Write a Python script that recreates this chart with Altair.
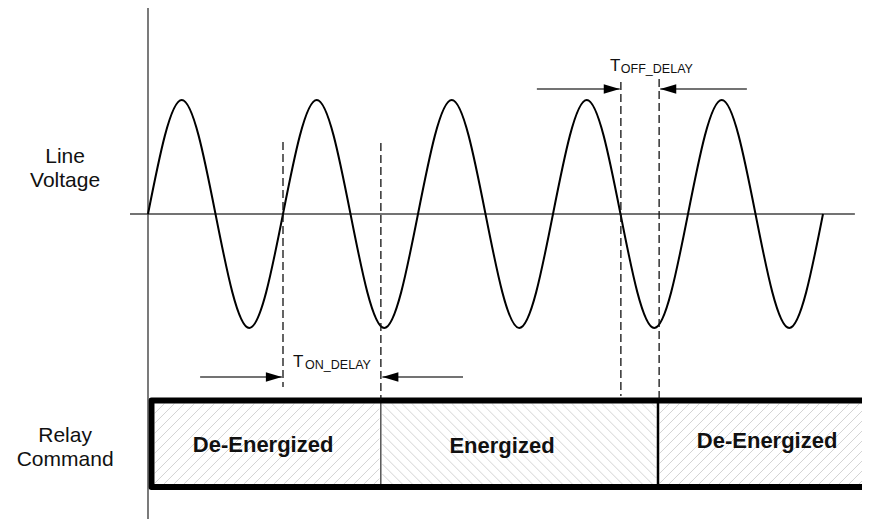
import altair as alt
import pandas as pd

# ---------------- data (x = line-cycle angle in degrees, y = normalized voltage) -------------
wave_deg = [0, 90, 180, 270, 360, 450, 540, 630, 720, 810, 900, 990, 1080, 1170,
            1260, 1350, 1440, 1530, 1620, 1710, 1800]
wave_v = [0, 1, 0, -1, 0, 1, 0, -1, 0, 1, 0, -1, 0, 1, 0, -1, 0, 1, 0, -1, 0]

# vertical axis and zero line
axis_x = 0
axis_top, axis_bot = 1.833, -2.746
zero_start, zero_end = -48, 1885

# dashed marker lines: x, top, bottom
dash_x = [360, 621, 1261, 1363]
dash_top = [0.632, 0.623, 1.158, 1.184]
dash_bot = [-1.518, -1.632, -1.596, -1.632]

# delay arrows: tail x, tip x, y
arrow_tail = [139, 840, 1037, 1597]
arrow_tip = [357, 625, 1258, 1366]
arrow_y = [-1.430, -1.430, 1.097, 1.097]
arrow_dir = ["right", "left", "right", "left"]

# relay command box
sec_start = [9.3, 621, 1360]
sec_end = [621, 1360, 1950]
sec_label = ["De-Energized", "Energized", "De-Energized"]
sec_label_x = [307, 944, 1651]
sec_label_y = [-2.088, -2.096, -2.055]
sec_hatch = ["/", "\\", "/"]
box_top, box_bot = -1.636, -2.395
divider_width = [1, 2.5]

# side labels
side_text = ["Line", "Voltage", "Relay", "Command"]
side_x = [-221, -221, -221, -221]
side_y = [0.447, 0.237, -2.000, -2.211]

# delay labels
delay_main_x = [387, 1232]
delay_main_y = [-1.342, 1.254]
delay_sub = ["ON_DELAY", "OFF_DELAY"]
delay_sub_x = [419, 1261]
delay_sub_y = [-1.360, 1.237]

# ---------------- scales ----------------
W, H = 854, 511
X_DOM = [-373.33, 1904.0]
Y_DOM = [-2.67544, 1.80702]
xs = alt.Scale(domain=X_DOM, nice=False, zero=False)
ys = alt.Scale(domain=Y_DOM, nice=False, zero=False)


def X(f):
    return alt.X(f"{f}:Q", scale=xs, axis=None)


def Y(f):
    return alt.Y(f"{f}:Q", scale=ys, axis=None)


def x_px(d):
    return (d - X_DOM[0]) / (X_DOM[1] - X_DOM[0]) * W


def y_px(v):
    return (Y_DOM[1] - v) / (Y_DOM[1] - Y_DOM[0]) * H


def px_x(p):
    return X_DOM[0] + p / W * (X_DOM[1] - X_DOM[0])


def px_y(p):
    return Y_DOM[1] - p / H * (Y_DOM[1] - Y_DOM[0])


# hatch segments derived from the box sections
hatch_rows = []
step = 10
for i, (a, b, d) in enumerate(zip(sec_start, sec_end, sec_hatch)):
    xa = x_px(a) + (3 if i == 0 else 1.5)
    xb = min(x_px(b) - 1.5, W)
    ya = y_px(box_top) + 3
    yb = y_px(box_bot) - 3
    if d == "/":
        c = xa + ya
        while c < xb + yb:
            lo = max(ya, c - xb)
            hi = min(yb, c - xa)
            if lo < hi:
                hatch_rows.append(dict(x=px_x(c - lo), y=px_y(lo), x2=px_x(c - hi), y2=px_y(hi)))
            c += step
    else:
        c = xa - yb
        while c < xb - ya:
            lo = max(ya, xa - c)
            hi = min(yb, xb - c)
            if lo < hi:
                hatch_rows.append(dict(x=px_x(c + lo), y=px_y(lo), x2=px_x(c + hi), y2=px_y(hi)))
            c += step
hatch_df = pd.DataFrame(hatch_rows)

hatch = alt.Chart(hatch_df).mark_rule(color="#d4d4d4", strokeWidth=1).encode(
    x=X("x"), y=Y("y"), x2="x2", y2="y2")

box_df = pd.DataFrame(dict(x=[sec_start[0]], x2=[sec_end[-1]], y=[box_top], y2=[box_bot]))
box = alt.Chart(box_df).mark_rect(fill="white", fillOpacity=0, stroke="black",
                                  strokeWidth=6, strokeJoin="round").encode(
    x=X("x"), x2="x2", y=Y("y"), y2="y2")

div_df = pd.DataFrame(dict(x=sec_start[1:], y=[box_top] * 2, y2=[box_bot] * 2, w=divider_width))
dividers = alt.Chart(div_df).mark_rule(color="black").encode(
    x=X("x"), y=Y("y"), y2="y2",
    strokeWidth=alt.StrokeWidth("w:Q", scale=None, legend=None))

zero_df = pd.DataFrame(dict(x=[zero_start], x2=[zero_end], y=[0]))
zero_line = alt.Chart(zero_df).mark_rule(color="#444", strokeWidth=1.3).encode(
    x=X("x"), x2="x2", y=Y("y"))

axis_df = pd.DataFrame(dict(x=[axis_x], y=[axis_top], y2=[axis_bot]))
axis_line = alt.Chart(axis_df).mark_rule(color="#333", strokeWidth=1.3).encode(
    x=X("x"), y=Y("y"), y2="y2")

wave_df = pd.DataFrame(dict(x=wave_deg, y=wave_v))
wave = alt.Chart(wave_df).mark_line(color="black", strokeWidth=2, interpolate="natural").encode(
    x=X("x"), y=Y("y"))

dash_df = pd.DataFrame(dict(x=dash_x, y=dash_top, y2=dash_bot))
dashes = alt.Chart(dash_df).mark_rule(color="#111", strokeWidth=1.3, strokeDash=[8, 4]).encode(
    x=X("x"), y=Y("y"), y2="y2")

arr_df = pd.DataFrame(dict(x=arrow_tail, x2=arrow_tip, y=arrow_y, d=arrow_dir))
arrow_lines = alt.Chart(arr_df).mark_rule(color="#444", strokeWidth=1.4).encode(
    x=X("x"), x2="x2", y=Y("y"))
heads_r = alt.Chart(arr_df[arr_df.d == "right"]).mark_point(
    shape="M0,0L-2,-0.6L-2,0.6Z", size=256, filled=True, color="black", opacity=1,
    strokeWidth=0).encode(x=X("x2"), y=Y("y"))
heads_l = alt.Chart(arr_df[arr_df.d == "left"]).mark_point(
    shape="M0,0L2,-0.6L2,0.6Z", size=256, filled=True, color="black", opacity=1,
    strokeWidth=0).encode(x=X("x2"), y=Y("y"))

FONT = "Liberation Sans"
side_df = pd.DataFrame(dict(x=side_x, y=side_y, t=side_text))
side_labels = alt.Chart(side_df).mark_text(font=FONT, fontSize=21, align="center",
                                            baseline="alphabetic", color="#111").encode(
    x=X("x"), y=Y("y"), text="t:N")

sec_df = pd.DataFrame(dict(x=sec_label_x, y=sec_label_y, t=sec_label))
sec_labels = alt.Chart(sec_df).mark_text(font=FONT, fontSize=22, fontWeight="bold",
                                          align="center", baseline="alphabetic",
                                          color="#111").encode(
    x=X("x"), y=Y("y"), text="t:N")

tmain_df = pd.DataFrame(dict(x=delay_main_x, y=delay_main_y, t=["T", "T"]))
tmain = alt.Chart(tmain_df).mark_text(font=FONT, fontSize=17, align="left",
                                       baseline="alphabetic", color="#111").encode(
    x=X("x"), y=Y("y"), text="t:N")
tsub_df = pd.DataFrame(dict(x=delay_sub_x, y=delay_sub_y, t=delay_sub))
tsub = alt.Chart(tsub_df).mark_text(font=FONT, fontSize=12.5, align="left",
                                     baseline="alphabetic", color="#111").encode(
    x=X("x"), y=Y("y"), text="t:N")

chart = alt.layer(
    hatch, box, dividers, zero_line, axis_line, wave, dashes,
    arrow_lines, heads_r, heads_l, side_labels, sec_labels, tmain, tsub
).properties(
    width=W, height=H, padding=0,
    autosize=alt.AutoSizeParams(type="none"),
    background="white",
).configure_view(strokeWidth=0)

chart.save("out.html", embed_options={"renderer": "svg", "actions": False})
